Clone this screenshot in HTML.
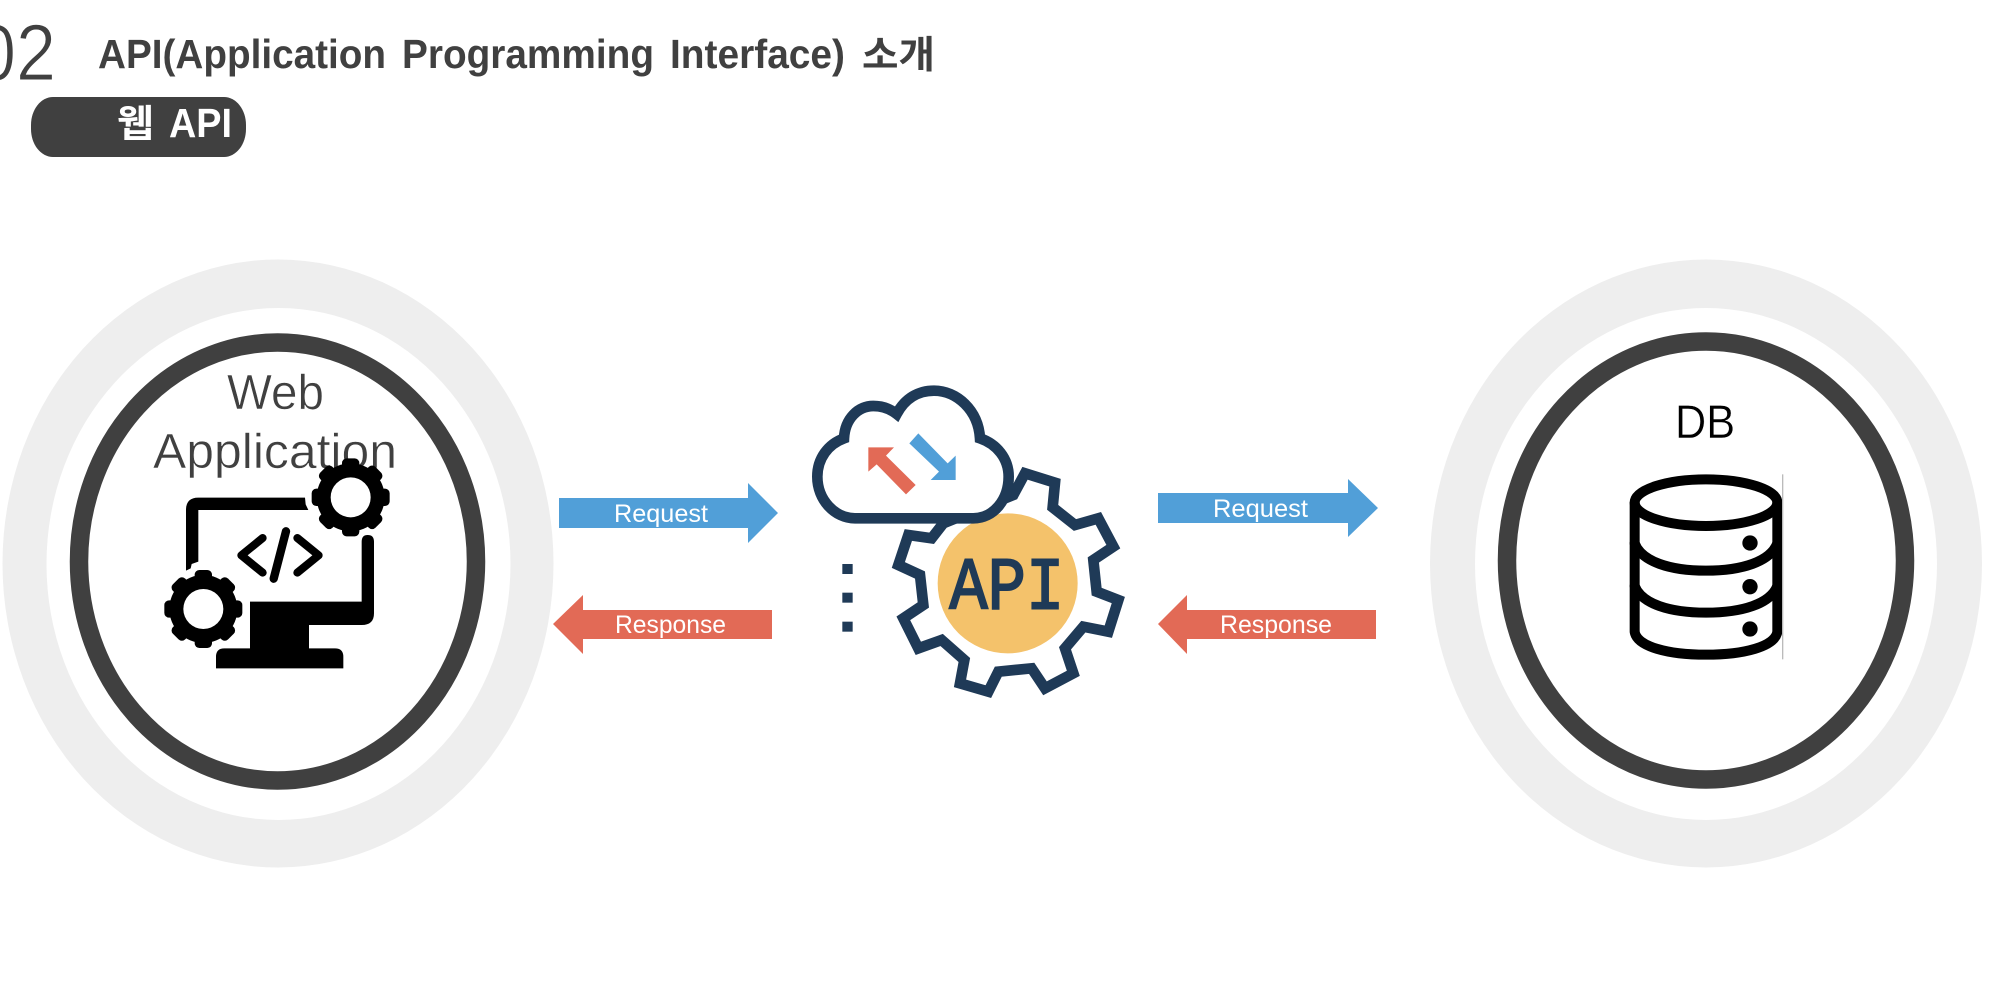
<!DOCTYPE html>
<html lang="ko">
<head>
<meta charset="utf-8">
<title>API</title>
<style>
html,body{margin:0;padding:0;background:#fff;width:2000px;height:1006px;overflow:hidden}
svg{display:block}
text{font-family:"Liberation Sans","Noto Sans CJK KR",sans-serif}
</style>
</head>
<body>
<svg width="2000" height="1006" viewBox="0 0 2000 1006" xmlns="http://www.w3.org/2000/svg">
<rect width="2000" height="1006" fill="#fff"/>

<!-- Header -->
<text x="-24" y="80" font-size="80" fill="#404040" stroke="#fff" stroke-width="1.1" textLength="80" lengthAdjust="spacingAndGlyphs">02</text>
<g font-size="41" font-weight="700" fill="#404040">
  <text x="98" y="68" textLength="288" lengthAdjust="spacingAndGlyphs">API(Application</text>
  <text x="402" y="68" textLength="252" lengthAdjust="spacingAndGlyphs">Programming</text>
  <text x="670" y="68" textLength="175" lengthAdjust="spacingAndGlyphs">Interface)</text>
  <text x="862" y="68" font-size="38" textLength="73" lengthAdjust="spacingAndGlyphs">소개</text>
</g>
<rect x="31" y="97" width="215" height="60" rx="22" ry="28" fill="#404040"/>
<g font-size="41" font-weight="700" fill="#fff">
  <text x="117" y="137" font-size="38" textLength="37" lengthAdjust="spacingAndGlyphs">웹</text>
  <text x="169" y="137" textLength="63" lengthAdjust="spacingAndGlyphs">API</text>
</g>

<!-- Left circles -->
<ellipse cx="278" cy="563.5" rx="275.5" ry="304" fill="#eeeeee"/>
<ellipse cx="278.5" cy="564" rx="232" ry="256" fill="#fff"/>
<ellipse cx="277.5" cy="561.5" rx="198.5" ry="219" fill="#fff" stroke="#404040" stroke-width="18.5"/>
<text x="227" y="409" font-size="49" fill="#404040" stroke="#fff" stroke-width=".5" textLength="97" lengthAdjust="spacingAndGlyphs">Web</text>
<text x="153" y="468" font-size="49" fill="#404040" stroke="#fff" stroke-width=".5" textLength="244" lengthAdjust="spacingAndGlyphs">Application</text>

<!-- Monitor icon -->
<g transform="translate(130 340) scale(.33333)">
  <path fill="#000" d="M168 692V510Q168 473 205 473H525L527 493L535 510H205V665L185 672L182 685Z"/>
  <path fill="#000" d="M695 605Q695 585 713 585Q732 585 732 605V820Q732 855 695 855H537V925H615Q640 925 640 950V985H258V950Q258 925 283 925H360V785H695Z"/>
  <g fill="none" stroke="#000" stroke-linecap="round" stroke-linejoin="round" stroke-width="24">
    <path d="M398 594L334 646L398 698"/>
    <path d="M502 594L566 646L502 698"/>
    <path d="M468 574L431 716" stroke-width="25"/>
  </g>
  <g transform="translate(662 472)">
    <circle r="102" fill="#000"/>
    <rect x="-26" y="-117" width="52" height="234" rx="14" fill="#000"/>
    <rect x="-26" y="-117" width="52" height="234" rx="14" fill="#000" transform="rotate(45)"/>
    <rect x="-26" y="-117" width="52" height="234" rx="14" fill="#000" transform="rotate(90)"/>
    <rect x="-26" y="-117" width="52" height="234" rx="14" fill="#000" transform="rotate(135)"/>
    <circle r="60" fill="#fff"/>
  </g>
  <g transform="translate(220 807)">
    <circle r="102" fill="#000"/>
    <rect x="-26" y="-117" width="52" height="234" rx="14" fill="#000"/>
    <rect x="-26" y="-117" width="52" height="234" rx="14" fill="#000" transform="rotate(45)"/>
    <rect x="-26" y="-117" width="52" height="234" rx="14" fill="#000" transform="rotate(90)"/>
    <rect x="-26" y="-117" width="52" height="234" rx="14" fill="#000" transform="rotate(135)"/>
    <circle r="60" fill="#fff"/>
  </g>
</g>

<!-- Left arrows -->
<polygon fill="#519fd8" points="559,498 748,498 748,483 778,513 748,543 748,528 559,528"/>
<text x="614" y="522" font-size="25" fill="#fff" textLength="94" lengthAdjust="spacingAndGlyphs">Request</text>
<polygon fill="#e26a56" points="553,624 583,595 583,610 772,610 772,639 583,639 583,654"/>
<text x="615" y="633" font-size="25" fill="#fff" textLength="111" lengthAdjust="spacingAndGlyphs">Response</text>

<!-- API icon -->
<g transform="translate(780 370) scale(.33333)">
  <polygon fill="#fff" stroke="#1f3a57" stroke-width="32" stroke-linejoin="miter" points="700,375 735,310 825,338 818,412 885,465 955,445 1000,530 940,570 950,665 1015,690 985,785 910,770 855,835 880,910 795,955 755,895 655,905 625,965 540,940 553,870 485,810 415,835 370,745 430,705 420,615 355,585 385,495 455,505 490,460"/>
  <circle cx="683" cy="640" r="210" fill="#f4c26b"/>
  <text x="508" y="716" font-size="222" fill="#1f3a57" stroke="#1f3a57" stroke-width="6" style="font-family:'Liberation Mono',monospace" textLength="345" lengthAdjust="spacingAndGlyphs">API</text>
  <path fill="#fff" stroke="#1f3a57" stroke-width="32" d="M225 445H580C640 445 686 390 686 320C686 265 650 222 600 205C595 120 530 62 462 62C415 62 375 85 350 132C325 112 300 108 280 108C235 108 195 145 192 205C145 222 112 265 112 320C112 390 165 445 225 445Z"/>
  <polygon fill="#e26a56" points="265,232 342,232 318,257 407,345 378,373 290,283 265,305"/>
  <polygon fill="#519fd8" points="415,190 388,220 477,305 452,330 527,330 527,257 503,280"/>
  <rect x="187" y="582" width="31" height="30" fill="#1f3a57"/>
  <rect x="187" y="668" width="31" height="30" fill="#1f3a57"/>
  <rect x="187" y="755" width="31" height="30" fill="#1f3a57"/>
</g>

<!-- Right arrows -->
<polygon fill="#519fd8" points="1158,493 1348,493 1348,479 1378,508 1348,537 1348,523 1158,523"/>
<text x="1213" y="517" font-size="25" fill="#fff" textLength="95" lengthAdjust="spacingAndGlyphs">Request</text>
<polygon fill="#e26a56" points="1158,624 1187,595 1187,610 1376,610 1376,639 1187,639 1187,654"/>
<text x="1220" y="633" font-size="25" fill="#fff" textLength="112" lengthAdjust="spacingAndGlyphs">Response</text>

<!-- Right circles -->
<ellipse cx="1706" cy="563.5" rx="276" ry="304" fill="#eeeeee"/>
<ellipse cx="1706" cy="564" rx="231" ry="256" fill="#fff"/>
<ellipse cx="1706" cy="560.5" rx="199" ry="219" fill="#fff" stroke="#404040" stroke-width="18.5"/>
<text x="1675" y="438" font-size="47" fill="#000" stroke="#fff" stroke-width=".4" textLength="60" lengthAdjust="spacingAndGlyphs">DB</text>

<!-- DB icon -->
<g transform="translate(1600 380) scale(.33333)">
  <g fill="none" stroke="#000" stroke-width="30" stroke-linecap="round" stroke-linejoin="round">
    <ellipse cx="318" cy="368" rx="214" ry="70"/>
    <path d="M104 368V755C110 800 205 824 318 824S526 800 532 755V368"/>
    <path d="M104 490C125 545 210 572 318 572S511 545 532 490"/>
    <path d="M104 618C125 672 210 698 318 698S511 672 532 618"/>
  </g>
  <circle cx="450" cy="489" r="23" fill="#000"/>
  <circle cx="450" cy="620" r="23" fill="#000"/>
  <circle cx="450" cy="747" r="23" fill="#000"/>
  <rect x="546" y="283" width="4" height="555" fill="#bbb"/>
</g>
</svg>
</body>
</html>
